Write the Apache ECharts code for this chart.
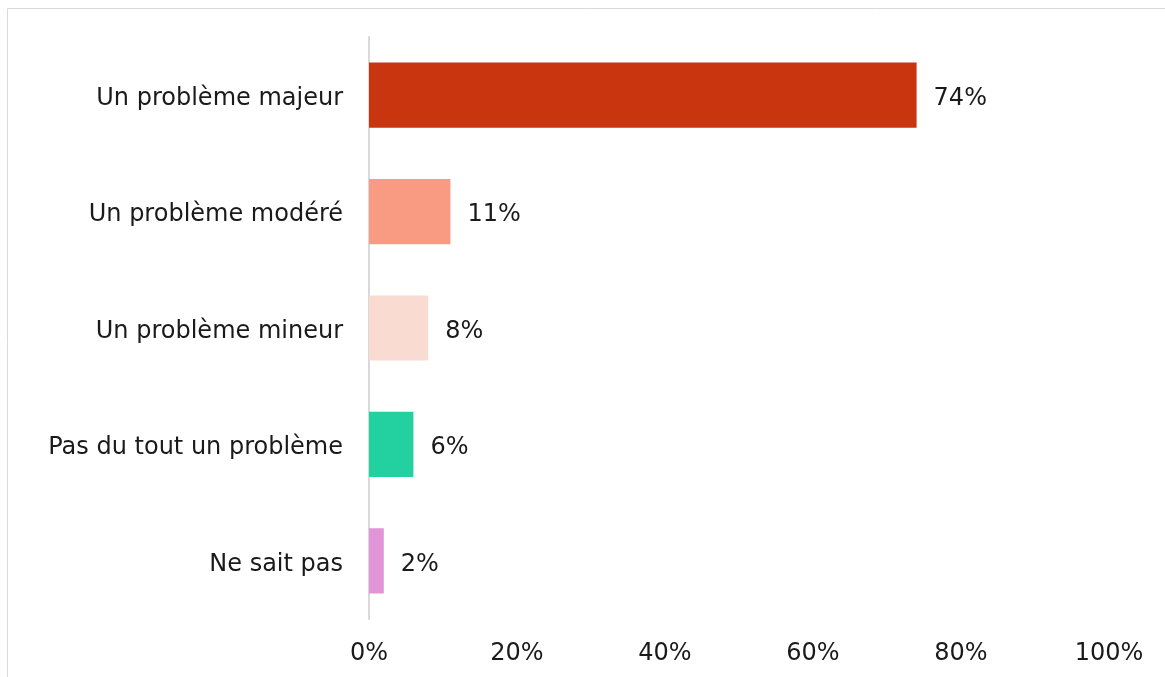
<!DOCTYPE html>
<html>
<head>
<meta charset="utf-8">
<script src="https://cdn.jsdelivr.net/npm/echarts@6/dist/echarts.min.js"></script>
<style>html,body{margin:0;padding:0;background:#fff}#c{width:1165px;height:677px}</style>
</head>
<body>
<div id="c"></div>
<script>
const categories = ["Un problème majeur", "Un problème modéré", "Un problème mineur", "Pas du tout un problème", "Ne sait pas"];
const values = [74, 11, 8, 6, 2];
const colors = ["#C9350E", "#F99B82", "#FADBD2", "#22D0A0", "#E195D6"];
const ticks = [0, 20, 40, 60, 80, 100];

const chart = echarts.init(document.getElementById('c'));
const font = "'DejaVu Sans', sans-serif";
const txt = {color: '#1a1a1a', fontSize: 24, fontFamily: font, padding: [7, 0, 0, 0]};
chart.setOption({
  animation: false,
  graphic: [{
    type: 'rect', shape: {x: 7.5, y: 8.5, width: 1180, height: 700},
    style: {fill: 'none', stroke: '#d9d9d9', lineWidth: 1}, silent: true
  }],
  grid: {left: 369, right: 56, top: 37, bottom: 58},
  xAxis: {
    type: 'value', min: ticks[0], max: ticks[ticks.length - 1], interval: 20,
    axisLine: {show: false}, axisTick: {show: false}, splitLine: {show: false},
    axisLabel: {formatter: v => v + '%', color: '#1a1a1a', fontSize: 24, fontFamily: font, margin: 23}
  },
  yAxis: {
    type: 'category', data: categories, inverse: true,
    axisLine: {show: true, lineStyle: {color: '#d9d9d9', width: 2}},
    axisTick: {show: false},
    axisLabel: {margin: 26, formatter: v => '{t|' + v + '}', rich: {t: txt}}
  },
  series: [{
    type: 'bar', barCategoryGap: '44%',
    data: values.map((v, i) => ({value: v, itemStyle: {color: colors[i]}})),
    label: {show: true, position: 'right', distance: 17, formatter: p => '{t|' + p.value + '%}', rich: {t: txt}}
  }]
});
</script>
</body>
</html>
